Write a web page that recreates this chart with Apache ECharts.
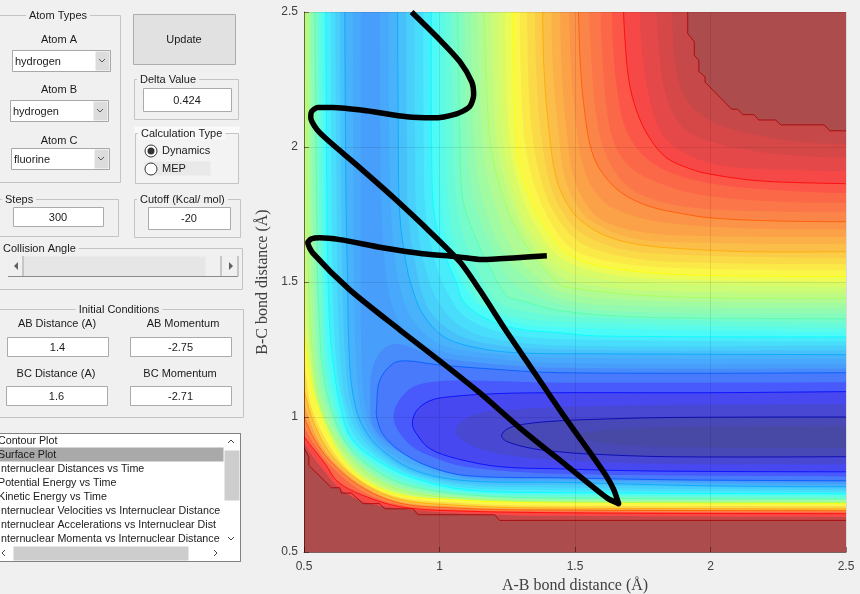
<!DOCTYPE html>
<html><head><meta charset="utf-8">
<style>html,body{margin:0;padding:0;background:#f0f0f0}#c{width:860px;height:594px}</style>
<script src="https://cdn.jsdelivr.net/npm/echarts@6/dist/echarts.min.js"></script>
</head><body><div id="c"></div>
<script>
// ---------- trajectory [A-B, B-C] ----------
const trajectory=[[1.396,1.597],[1.285,1.59],[1.159,1.583],[1.063,1.594],[.938,1.605],[.79,1.627],[.632,1.657],[.558,1.664],[.528,1.66],[.514,1.646],[.532,1.608],[.669,1.471],[.853,1.323],[1.001,1.208],[1.148,1.09],[1.296,.96],[1.469,.82],[1.617,.701],[1.661,.679],[1.643,.731],[1.617,.779],[1.543,.886],[1.455,1.01],[1.37,1.135],[1.248,1.316],[1.148,1.471],[1.075,1.575],[.938,1.712],[.827,1.816],[.694,1.934],[.558,2.053],[.525,2.109],[.528,2.131],[.551,2.146],[.606,2.146],[.731,2.134],[.879,2.112],[.975,2.108],[1.063,2.123],[1.111,2.149],[1.126,2.193],[1.119,2.241],[1.075,2.316],[1.001,2.397],[.897,2.5]];

// ---------- contour curves ----------
const c12Low=[[.49,.9],[.5,.886],[.518,.852],[.518,.821],[.601,.738],[.632,.738],[.638,.718],[.675,.718],[.718,.679],[.779,.679],[.798,.66],[.902,.66],[.921,.638],[1.204,.638],[1.222,.617],[2.5,.617]];
const c12Up=[[1.916,2.6],[1.916,2.42],[1.94,2.39],[1.94,2.34],[1.957,2.32],[1.957,2.28],[1.98,2.26],[1.98,2.24],[2.078,2.14],[2.1,2.14],[2.12,2.12],[2.16,2.12],[2.178,2.10],[2.24,2.10],[2.26,2.082],[2.42,2.082],[2.44,2.06],[2.5,2.06]];
const q955Up=[[1.858,2.6],[1.865,2.35],[1.89,2.22],[1.94,2.14],[2.04,2.08],[2.25,2.03],[2.5,2.01]];
const m11Low=[[.46,.95],[.5,.905],[.535,.85],[.575,.80],[.62,.745],[.71,.69],[.85,.662],[1.04,.645],[1.3,.635],[2.5,.63]];
const m11Up=[[1.8,2.6],[1.81,2.35],[1.84,2.18],[1.9,2.07],[2.0,2.02],[2.2,1.98],[2.5,1.96]];
const q90Up=[[1.738,2.6],[1.745,2.38],[1.77,2.2],[1.82,2.05],[1.9,1.98],[2.05,1.93],[2.3,1.915],[2.5,1.91]];
const c11Low=[[.46,.99],[.5,.927],[.54,.875],[.58,.824],[.625,.76],[.717,.71],[.853,.668],[1.038,.653],[1.5,.645],[2.5,.642]];
const c11Up=[[1.676,2.6],[1.683,2.42],[1.70,2.24],[1.73,2.127],[1.775,2.034],[1.838,1.96],[1.923,1.92],[1.997,1.90],[2.145,1.878],[2.267,1.87],[2.5,1.864]];
const q85Up=[[1.635,2.6],[1.64,2.38],[1.66,2.18],[1.69,2.06],[1.75,1.97],[1.84,1.91],[2.0,1.865],[2.25,1.84],[2.5,1.83]];
const m10Low=[[.46,1.05],[.5,.965],[.54,.895],[.588,.831],[.71,.728],[.85,.676],[1.04,.659],[1.4,.65],[2.5,.648]];
const m10Up=[[1.593,2.6],[1.6,2.35],[1.62,2.12],[1.65,2.0],[1.71,1.92],[1.8,1.87],[1.95,1.825],[2.2,1.8],[2.5,1.793]];
const q81Up=[[1.55,2.6],[1.56,2.33],[1.578,2.12],[1.605,1.995],[1.66,1.89],[1.74,1.825],[1.9,1.78],[2.2,1.762],[2.5,1.758]];
const c10Low=[[.46,1.1],[.5,1.0],[.54,.915],[.595,.839],[.705,.745],[.85,.682],[1.04,.664],[1.3,.656],[2.5,.653]];
const c10Up=[[1.51,2.6],[1.52,2.30],[1.536,2.127],[1.56,1.99],[1.60,1.905],[1.672,1.83],[1.775,1.78],[1.897,1.753],[1.997,1.738],[2.207,1.727],[2.5,1.723]];
const q77Up=[[1.478,2.6],[1.485,2.3],[1.503,2.09],[1.528,1.94],[1.57,1.84],[1.64,1.775],[1.8,1.725],[2.1,1.7],[2.5,1.695]];
const m9Low=[[.455,1.2],[.5,1.05],[.54,.94],[.6,.845],[.71,.75],[.85,.688],[1.04,.669],[1.3,.66],[2.5,.656]];
const m9Up=[[1.445,2.6],[1.45,2.3],[1.47,2.05],[1.495,1.89],[1.54,1.79],[1.6,1.73],[1.72,1.69],[1.9,1.672],[2.5,1.667]];
const q73Up=[[1.413,2.6],[1.418,2.3],[1.44,2.05],[1.463,1.885],[1.51,1.78],[1.57,1.72],[1.7,1.665],[1.9,1.647],[2.5,1.64]];
const c9Low=[[.45,1.3],[.5,1.10],[.54,.97],[.607,.852],[.717,.755],[.853,.695],[1.038,.675],[1.3,.664],[2.5,.66]];
const c9Up=[[1.38,2.6],[1.385,2.3],[1.405,2.05],[1.432,1.879],[1.48,1.775],[1.53,1.72],[1.62,1.668],[1.739,1.638],[1.897,1.623],[2.145,1.612],[2.5,1.612]];
const q69Up=[[1.352,2.6],[1.358,2.25],[1.378,2.02],[1.41,1.855],[1.46,1.75],[1.525,1.68],[1.68,1.62],[1.9,1.6],[2.5,1.589]];
const m8Low=[[.46,1.4],[.5,1.2],[.53,1.03],[.616,.861],[.72,.76],[.853,.703],[1.038,.684],[1.3,.672],[2.5,.67]];
const m8Up=[[1.323,2.6],[1.33,2.2],[1.35,1.99],[1.39,1.83],[1.44,1.73],[1.52,1.645],[1.65,1.6],[1.85,1.575],[2.5,1.566]];
const q65Up=[[1.295,2.6],[1.302,2.2],[1.318,1.995],[1.347,1.867],[1.4,1.74],[1.48,1.63],[1.62,1.578],[1.85,1.553],[2.5,1.543]];
const c8Low=[[.47,1.5],[.5,1.31],[.518,1.18],[.547,1.05],[.625,.87],[.72,.768],[.853,.712],[1.038,.695],[1.285,.685],[2.5,.68]];
const c8Up=[[1.267,2.6],[1.275,2.2],[1.285,2.0],[1.303,1.904],[1.359,1.755],[1.444,1.63],[1.499,1.59],[1.591,1.558],[1.775,1.535],[1.997,1.524],[2.5,1.52]];
const q60Up=[[1.241,2.6],[1.248,2.2],[1.263,1.99],[1.29,1.865],[1.342,1.728],[1.444,1.592],[1.6,1.534],[1.8,1.512],[2.5,1.5]];
const m7Low=[[.48,2.0],[.5,1.7],[.51,1.4],[.527,1.2],[.553,1.05],[.632,.878],[.73,.777],[.86,.718],[1.07,.694],[1.444,.683],[2.5,.681]];
const m7Up=[[1.215,2.6],[1.222,2.2],[1.24,1.98],[1.275,1.83],[1.325,1.7],[1.444,1.555],[1.6,1.51],[1.775,1.495],[2.5,1.48]];
const q56Up=[[1.189,2.6],[1.198,2.22],[1.216,1.985],[1.262,1.805],[1.323,1.665],[1.444,1.522],[1.6,1.482],[1.85,1.465],[2.5,1.46]];
const c7Low=[[.51,2.6],[.515,1.6],[.53,1.25],[.565,1.03],[.64,.885],[.74,.785],[.87,.725],[1.10,.698],[1.444,.685],[2.5,.683]];
const c7Up=[[1.163,2.6],[1.174,2.24],[1.192,1.99],[1.248,1.78],[1.322,1.632],[1.444,1.49],[1.48,1.479],[1.713,1.453],[1.997,1.442],[2.5,1.44]];
const q52Low=[[.518,2.6],[.522,1.8],[.53,1.4],[.54,1.2],[.57,1.04],[.645,.888],[.748,.787],[.875,.73],[1.1,.7],[1.444,.688],[2.5,.686]];
const q52Up=[[1.139,2.6],[1.15,2.17],[1.166,1.945],[1.205,1.785],[1.27,1.62],[1.36,1.52],[1.444,1.465],[1.7,1.433],[2.5,1.421]];
const m6Low=[[.525,2.6],[.53,1.8],[.54,1.4],[.55,1.2],[.578,1.05],[.65,.892],[.755,.79],[.88,.735],[1.1,.705],[1.444,.692],[2.5,.69]];
const m6Up=[[1.115,2.6],[1.125,2.1],[1.14,1.9],[1.17,1.77],[1.22,1.64],[1.29,1.54],[1.444,1.44],[1.7,1.412],[2.5,1.402]];
const q48Low=[[.532,2.6],[.54,1.8],[.548,1.4],[.558,1.2],[.586,1.05],[.654,.896],[.762,.795],[.885,.74],[1.1,.708],[1.444,.696],[2.5,.693]];
const q48Up=[[1.09,2.6],[1.1,2.08],[1.115,1.86],[1.155,1.71],[1.205,1.6],[1.27,1.495],[1.444,1.417],[1.7,1.39],[2.5,1.383]];
const c6Low=[[.54,2.6],[.55,1.51],[.558,1.334],[.565,1.208],[.595,1.049],[.658,.90],[.768,.80],[.89,.746],[1.1,.712],[1.444,.70],[2.5,.697]];
const c6Up=[[1.067,2.6],[1.075,2.05],[1.087,1.805],[1.136,1.657],[1.185,1.557],[1.248,1.45],[1.307,1.43],[1.444,1.394],[1.713,1.371],[2,1.366],[2.5,1.364]];
const q44Low=[[.55,2.6],[.557,1.8],[.565,1.4],[.572,1.2],[.6,1.05],[.66,.905],[.773,.805],[.895,.75],[1.1,.716],[1.444,.705],[2.5,.7]];
const q44Up=[[1.043,2.6],[1.05,2.05],[1.062,1.79],[1.1,1.63],[1.148,1.525],[1.21,1.43],[1.3,1.395],[1.444,1.373],[2.5,1.347]];
const m5Low=[[.56,2.6],[.565,1.8],[.572,1.4],[.58,1.2],[.61,1.05],[.667,.91],[.78,.81],[.90,.757],[1.1,.72],[1.444,.71],[2.5,.706]];
const m5Up=[[1.02,2.6],[1.023,2.05],[1.035,1.77],[1.065,1.6],[1.11,1.49],[1.17,1.41],[1.28,1.37],[1.444,1.353],[2.5,1.33]];
const q40Low=[[.57,2.6],[.575,1.8],[.58,1.4],[.592,1.2],[.62,1.05],[.671,.915],[.785,.82],[.905,.765],[1.1,.725],[1.444,.715],[2.5,.711]];
const q40Up=[[.995,2.6],[.998,2.03],[1.01,1.755],[1.045,1.59],[1.087,1.495],[1.14,1.42],[1.28,1.35],[1.444,1.332],[2.5,1.313]];
const c5Low=[[.58,2.6],[.585,1.7],[.59,1.46],[.595,1.334],[.606,1.208],[.632,1.049],[.675,.92],[.79,.827],[.915,.771],[1.1,.73],[1.444,.72],[2.5,.716]];
const c5Up=[[.971,2.6],[.971,2.0],[.982,1.742],[1.027,1.582],[1.063,1.497],[1.087,1.43],[1.159,1.371],[1.285,1.327],[1.444,1.312],[1.591,1.30],[2.5,1.297]];
const q355Low=[[.598,2.6],[.602,1.8],[.608,1.4],[.62,1.2],[.644,1.05],[.688,.93],[.79,.838],[.915,.778],[1.1,.738],[1.444,.729],[2.5,.722]];
const q355Up=[[.94,2.6],[.942,2.0],[.95,1.75],[.985,1.57],[1.03,1.46],[1.095,1.37],[1.24,1.31],[1.444,1.288],[2.5,1.28]];
const m4Low=[[.615,2.6],[.62,1.8],[.625,1.4],[.635,1.2],[.655,1.05],[.70,.94],[.79,.85],[.915,.785],[1.1,.747],[1.444,.738],[2.5,.729]];
const m4Up=[[.908,2.6],[.91,2.0],[.915,1.75],[.945,1.56],[1.0,1.42],[1.08,1.335],[1.2,1.29],[1.444,1.265],[2.5,1.264]];
const q31Low=[[.632,2.6],[.637,1.8],[.643,1.45],[.65,1.25],[.668,1.07],[.71,.95],[.79,.862],[.915,.792],[1.1,.755],[1.444,.748],[2.5,.735]];
const q31Up=[[.877,2.6],[.88,2.0],[.885,1.75],[.912,1.56],[.955,1.41],[1.04,1.32],[1.16,1.275],[1.444,1.25],[2.5,1.247]];
const c4Low=[[.65,2.6],[.655,1.8],[.661,1.483],[.665,1.271],[.68,1.086],[.717,.964],[.79,.875],[.915,.80],[1.10,.764],[1.444,.758],[2,.745],[2.5,.742]];
const c4Up=[[.845,2.6],[.848,2.05],[.853,1.756],[.879,1.557],[.908,1.45],[.938,1.382],[1.012,1.30],[1.122,1.26],[1.285,1.238],[1.6,1.234],[2.5,1.231]];
const q27Low=[[.68,2.6],[.682,1.8],[.685,1.45],[.69,1.25],[.7,1.1],[.725,.98],[.79,.89],[.9,.825],[1.1,.77],[1.444,.763],[2.5,.747]];
const q27Up=[[.812,2.6],[.815,2.0],[.825,1.7],[.85,1.5],[.9,1.36],[1.0,1.27],[1.14,1.24],[1.444,1.22],[2.5,1.214]];
const m3Low=[[.71,2.6],[.71,1.6],[.71,1.35],[.715,1.15],[.735,1.0],[.79,.906],[.9,.85],[1.0,.81],[1.1,.775],[1.444,.768],[2.5,.752]];
const m3Up=[[.78,2.6],[.785,1.8],[.80,1.55],[.83,1.40],[.89,1.30],[1.0,1.245],[1.15,1.22],[1.444,1.2],[2.5,1.197]];
const q24Low=[[.745,1.06],[.75,.98],[.79,.92],[.87,.86],[.96,.815],[1.1,.78],[1.444,.771],[2.5,.758]];
const q24Up=[[.745,1.06],[.75,1.17],[.79,1.25],[.85,1.27],[.98,1.225],[1.16,1.2],[1.444,1.182],[2.5,1.18]];
const c3Low=[[.768,1.038],[.768,1.0],[.79,.938],[.853,.875],[.953,.82],[1.10,.783],[1.444,.775],[1.9,.767],[2.5,.764]];
const c3Up=[[.768,1.038],[.779,1.134],[.827,1.197],[.879,1.208],[.989,1.194],[1.16,1.18],[1.444,1.164],[2.5,1.164]];
const m2Low=[[.83,1.0],[.85,.945],[.9,.89],[.98,.85],[1.1,.815],[1.444,.79],[2.5,.78]];
const m2Up=[[.83,1.0],[.85,1.06],[.9,1.11],[.97,1.13],[1.1,1.135],[1.444,1.127],[2.5,1.129]];
const c2Low=[[.90,.975],[.915,.938],[.964,.883],[1.063,.846],[1.222,.816],[1.444,.808],[1.775,.80],[2.5,.797]];
const c2Up=[[.90,.975],[.915,1.023],[.964,1.06],[1.038,1.075],[1.222,1.087],[1.444,1.09],[2,1.09],[2.5,1.094]];
const m1Low=[[1.06,.95],[1.09,.91],[1.17,.875],[1.3,.852],[1.444,.84],[1.8,.827],[2.5,.825]];
const m1Up=[[1.06,.95],[1.09,.99],[1.17,1.02],[1.3,1.03],[1.444,1.037],[1.8,1.044],[2.5,1.047]];
const c1Low=[[1.229,.93],[1.252,.908],[1.344,.883],[1.444,.871],[1.53,.864],[1.838,.853],[2.5,.853]];
const c1Up=[[1.229,.93],[1.252,.957],[1.322,.975],[1.444,.986],[1.53,.99],[1.838,.998],[2.5,1.0]];
const m0Low=[[1.5,.93],[1.6,.905],[1.8,.89],[2.5,.885]];
const m0Up=[[1.5,.93],[1.6,.95],[1.8,.962],[2.5,.968]];

// ---------- level table: outermost first. [colour position, lower branch, upper branch, has line, line colour position] ----------
const levels=[
[.98,c12Low,c12Up,1],[.955,m11Low,q955Up,0],[.93,m11Low,m11Up,0],[.90,m11Low,q90Up,0],[.875,c11Low,c11Up,1],
[.85,c11Low,q85Up,0],[.83,m10Low,m10Up,0],[.81,m10Low,q81Up,0],[.79,c10Low,c10Up,1],[.77,c10Low,q77Up,0],
[.75,m9Low,m9Up,0],[.73,m9Low,q73Up,0],[.71,c9Low,c9Up,1],[.69,c9Low,q69Up,0],[.67,m8Low,m8Up,0],[.65,m8Low,q65Up,0],
[.625,c8Low,c8Up,1],[.60,c8Low,q60Up,0],[.58,m7Low,m7Up,0],[.56,m7Low,q56Up,0],[.54,c7Low,c7Up,1],[.52,q52Low,q52Up,0],
[.50,m6Low,m6Up,0],[.48,q48Low,q48Up,0],[.46,c6Low,c6Up,1],[.44,q44Low,q44Up,0],[.42,m5Low,m5Up,0],[.40,q40Low,q40Up,0],
[.375,c5Low,c5Up,1],[.355,q355Low,q355Up,0],[.335,m4Low,m4Up,0],[.315,q31Low,q31Up,0],
[.295,c4Low,c4Up,1,.29],[.28,q27Low,q27Up,0],[.265,m3Low,m3Up,0],[.24,q24Low,q24Up,0],[.215,c3Low,c3Up,1,.21],[.17,m2Low,m2Up,0],
[.13,c2Low,c2Up,1],[.09,m1Low,m1Up,0],[.05,c1Low,c1Up,1],[.025,m0Low,m0Up,0]];

// ---------- axis ticks and panel texts ----------
const tickStep=.5, axisMin=.5, axisMax=2.5;
const xName='A-B bond distance (Å)', yName='B-C bond distance (Å)';
const listItems=['Contour Plot','Surface Plot','Internuclear Distances vs Time','Potential Energy vs Time','Kinetic Energy vs Time','Internuclear Velocities vs Internuclear Distance','Internuclear Accelerations vs Internuclear Distance','Internuclear Momenta vs Internuclear Distance'];

const clamp=v=>Math.max(0,Math.min(1,v));
function jet(t){
  let r=t>.875?1-(t-.875)*3.4:clamp(Math.min(4*t-1.5,1));
  return [r,clamp(Math.min(4*t-.5,-4*t+3.5)),clamp(Math.min(4*t+.5,-4*t+2.5))];
}
const css=c=>'rgb('+c.map(x=>Math.round(x)).join(',')+')';
const lineColor=t=>css(jet(t).map(x=>x*255));
const fillColor=t=>css(jet(t-.02).map(x=>x*255*.7+72));

function fillItem(params,api){
  const lv=levels[params.dataIndex], low=lv[1], up=lv[2];
  const closed=low[0][0]===up[0][0]&&low[0][1]===up[0][1];
  const far=3.2;
  let pts=low.concat([[far,low[low.length-1][1]],[far,up[up.length-1][1]]],up.slice(closed?1:0).reverse());
  if(!closed) pts=pts.concat([[up[0][0],far],[low[0][0],far]]);
  return {type:'polygon',shape:{points:pts.map(p=>api.coord(p)),smooth:lv===levels[0]?0:.35},style:{fill:fillColor(lv[0])},silent:true};
}
function lineItem(params,api){
  const lv=levels.filter(l=>l[3])[params.dataIndex], low=lv[1], up=lv[2];
  const s=lv===levels[0]?0:.35;
  const closed=low[0][0]===up[0][0]&&low[0][1]===up[0][1];
  const st={fill:null,stroke:lineColor(lv[4]||lv[0]),lineWidth:1,opacity:.8};
  if(closed) return {type:'polyline',shape:{points:low.slice().reverse().concat(up.slice(1)).map(p=>api.coord(p)),smooth:s},style:st,silent:true};
  return {type:'group',children:[low,up].map(a=>({type:'polyline',shape:{points:a.map(p=>api.coord(p)),smooth:s},style:st,silent:true}))};
}

// ---------- left-hand control panel ----------
const FONT='11px "Liberation Sans", Arial, sans-serif', LISTFONT='10.7px "Liberation Sans", Arial, sans-serif', G=[];
const rect=(x0,y0,x1,y1,fill,stroke)=>G.push({type:'rect',shape:{x:x0+.5,y:y0+.5,width:x1-x0,height:y1-y0},style:{fill:fill||null,stroke:stroke||null,lineWidth:1},silent:true});
const txt=(s,x,y,al,bg,w)=>G.push({type:'text',x:x,y:y,silent:true,style:Object.assign({text:s,fill:'#1a1a1a',font:w?LISTFONT:FONT,align:al||'center',textAlign:al||'center',verticalAlign:'middle',textVerticalAlign:'middle',backgroundColor:bg||null,padding:bg?[0,3]:0},w?{width:w,overflow:'truncate',ellipsis:''}:{})});
const poly=(pts,c)=>G.push({type:'polyline',shape:{points:pts},style:{fill:null,stroke:c||'#555',lineWidth:1},silent:true});
const tri=(pts)=>G.push({type:'polygon',shape:{points:pts},style:{fill:'#606060'},silent:true});
function panel(x0,y0,x1,y1,title,tx,al){rect(x0,y0,x1,y1,null,'#c4c4c4');txt(title,tx,y0+1,al||'left','#f0f0f0');}
function input(x0,y0,x1,y1,s){rect(x0,y0,x1,y1,'#fff','#ababab');txt(s,(x0+x1)/2,(y0+y1)/2+1);}
function combo(x0,y0,x1,y1,s){rect(x0,y0,x1,y1,'#fff','#a8a8a8');rect(x1-15,y0+1,x1-1,y1-1,'#dcdcdc',null);poly([[x1-11,y0+9],[x1-8,y0+12],[x1-5,y0+9]]);txt(s,x0+3,(y0+y1)/2+1,'left');}

panel(-2,15,120,182,'Atom Types',58,'center');
txt('Atom A',59,40);combo(12,50,110,71,'hydrogen');
txt('Atom B',59,90);combo(10,100,108,121,'hydrogen');
txt('Atom C',59,141);combo(11,148,109,169,'fluorine');
rect(133,14,235,64,'#e1e1e1','#adadad');txt('Update',184,40);
panel(134,79,238,119,'Delta Value',137);input(143,88,231,111,'0.424');
rect(134,126,239,134,'#fafafa',null);
rect(135,133,238,183,'#f3f3f3','#c4c4c4');txt('Calculation Type',138,134,'left','#f8f8f8');
rect(144,161,210,175,'#e9e9e9',null);
G.push({type:'circle',shape:{cx:151,cy:151,r:6},style:{fill:'#fff',stroke:'#333',lineWidth:1},silent:true});
G.push({type:'circle',shape:{cx:151,cy:151,r:3.5},style:{fill:'#333'},silent:true});
txt('Dynamics',162,151,'left');
G.push({type:'circle',shape:{cx:151,cy:169,r:6},style:{fill:'#fff',stroke:'#333',lineWidth:1},silent:true});
txt('MEP',162,169,'left');
panel(-2,199,118,236,'Steps',2);input(13,207,103,226,'300');
panel(134,199,240,237,'Cutoff (Kcal/ mol)',137);input(148,207,230,229,'-20');
panel(-2,248,242,289,'Collision Angle',0);
rect(8,256,238,276,'#e6e6e6',null);
rect(8,256,23,276,'#f0f0f0',null);rect(205,256,221,276,'#f0f0f0',null);rect(221,256,238,276,'#f0f0f0',null);
poly([[8,276.5],[238,276.5]],'#8a8a8a');poly([[23,256],[23,276]],'#a0a0a0');poly([[221,256],[221,276]],'#a0a0a0');poly([[238,256],[238,276]],'#a0a0a0');
tri([[18,262],[18,270],[14,266]]);tri([[229,262],[229,270],[233,266]]);
panel(-2,309,243,417,'Initial Conditions',119,'center');
txt('AB Distance (A)',57,324);txt('AB Momentum',183,324);
input(7,337,108,356,'1.4');input(130,337,231,356,'-2.75');
txt('BC Distance (A)',56,374);txt('BC Momentum',180,374);
input(6,386,107,405,'1.6');input(130,386,231,405,'-2.71');
rect(-2,433,240,561,'#fff','#828282');
rect(-1,447,223,461,'#a9a9a9',null);
listItems.forEach((s,i)=>txt(s,-2,441+i*14,'left',null,225));
rect(224,450,239,500,'#cdcdcd',null);
poly([[228,443],[231,440],[234,443]],'#444');poly([[228,537],[231,540],[234,537]],'#444');
rect(13,546,188,560,'#cdcdcd',null);
poly([[5,550],[2,553],[5,556]],'#444');poly([[214,550],[217,553],[214,556]],'#444');
rect(-2,433,240,561,null,'#828282');

const axisStyle={lineStyle:{color:'rgba(50,0,0,.55)',width:1}};
const labelStyle={color:'#404040',fontFamily:'"Liberation Sans", Arial, sans-serif',fontSize:12};
const nameStyle={color:'#404040',fontFamily:'"Liberation Serif", serif',fontSize:16};
const axis=(name,gap)=>({type:'value',min:axisMin,max:axisMax,interval:tickStep,z:5,name:name,nameLocation:'middle',nameGap:gap,nameTextStyle:nameStyle,
  axisLine:Object.assign({show:true,onZero:false},axisStyle),axisTick:{show:true,inside:true,length:5,lineStyle:{color:'rgba(50,0,0,.5)'}},
  splitLine:{show:true,lineStyle:{color:'rgba(0,0,0,.09)',width:1}},axisLabel:labelStyle});

const chart=echarts.init(document.getElementById('c'),null,{renderer:'canvas'});
chart.setOption({
  animation:false,backgroundColor:'#f0f0f0',
  grid:{left:304,top:12,width:542,height:540,show:true,backgroundColor:'#ad4c4c',borderWidth:0,containLabel:false,outerBoundsMode:'none'},
  xAxis:Object.assign(axis(xName,23),{axisLabel:Object.assign({margin:9},labelStyle)}),
  yAxis:Object.assign(axis(yName,16),{axisLabel:Object.assign({margin:6},labelStyle)}),
  graphic:{elements:G},
  series:[
    {name:'surface',type:'custom',clip:true,z:2,silent:true,renderItem:fillItem,data:levels.map((l,i)=>[i,l[0]])},
    {name:'contours',type:'custom',clip:true,z:3,silent:true,renderItem:lineItem,data:levels.filter(l=>l[3]).map((l,i)=>[i,l[0]])},
    {name:'trajectory',type:'line',z:6,clip:true,smooth:.25,showSymbol:false,silent:true,data:trajectory,lineStyle:{color:'#000',width:5.5,join:'round',cap:'butt'}}
  ]
});
</script></body></html>
